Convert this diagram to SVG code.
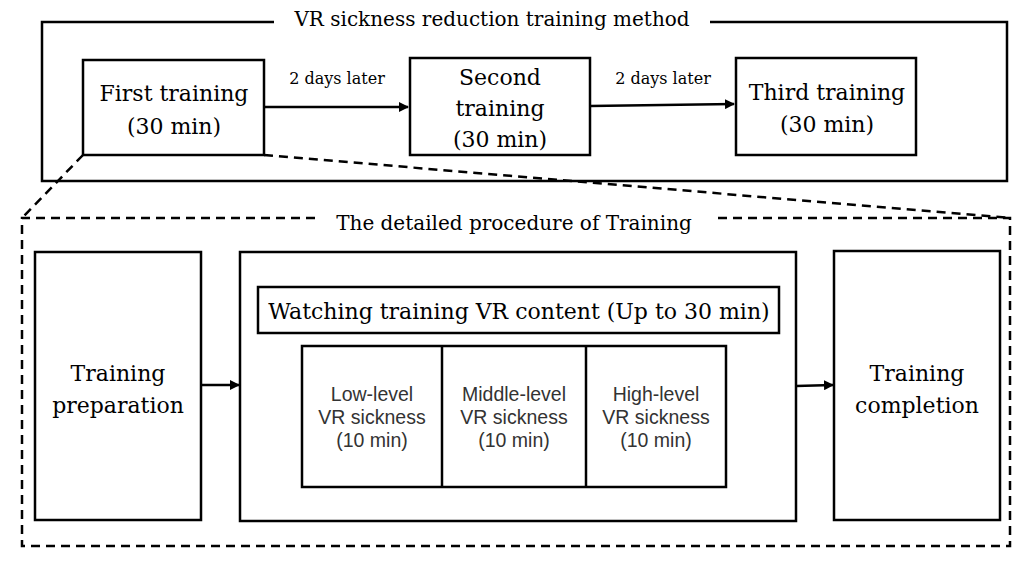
<svg xmlns="http://www.w3.org/2000/svg" width="1024" height="564" viewBox="0 0 1024 564">
<style>
.b{fill:none;stroke:#000;stroke-width:2.5}
.d{fill:none;stroke:#000;stroke-width:2.5;stroke-dasharray:9 6}
.s{font-family:"DejaVu Serif","Liberation Serif",serif;fill:#000;text-anchor:middle}
.n{font-family:"Liberation Sans",Arial,sans-serif;fill:#333;text-anchor:middle;font-size:19.5px}
</style>
<defs><marker id="a" markerWidth="10" markerHeight="10" refX="9" refY="5" orient="auto" markerUnits="userSpaceOnUse"><path d="M0,0 L10,5 L0,10 z"/></marker></defs>
<rect width="1024" height="564" fill="#fff"/>
<g id="outer">
<path class="b" d="M274,22 H42 V181 H1007 V22 H710"/>
<text class="s" x="492" y="26" font-size="20">VR sickness reduction training method</text>
</g>
<g id="first"><rect class="b" x="83" y="60" width="181" height="95"/>
<text class="s" x="174" y="101" font-size="22">First training</text><text class="s" x="174" y="134" font-size="22">(30 min)</text></g>
<g id="second"><rect class="b" x="410" y="58" width="180" height="97"/>
<text class="s" x="500" y="85" font-size="22">Second</text><text class="s" x="500" y="116" font-size="22">training</text><text class="s" x="500" y="147" font-size="22">(30 min)</text></g>
<g id="third"><rect class="b" x="736" y="58" width="180" height="97"/>
<text class="s" x="827" y="100" font-size="22">Third training</text><text class="s" x="827" y="132" font-size="22">(30 min)</text></g>
<g id="detail">
<path class="d" d="M315,218 H22 V546 H1010 V218 H712"/>
<text class="s" x="514" y="230" font-size="20">The detailed procedure of  Training</text>
</g>
<g id="prep"><rect class="b" x="35" y="252" width="166" height="268"/>
<text class="s" x="118" y="381" font-size="22">Training</text><text class="s" x="118" y="413" font-size="22">preparation</text></g>
<g id="watch"><rect class="b" x="240" y="252" width="556" height="269"/>
<rect class="b" x="258" y="287" width="521" height="46"/>
<text class="s" x="519" y="319" font-size="22">Watching training VR content (Up to 30 min)</text>
<rect class="b" x="302" y="346" width="424" height="141"/>
<line class="b" x1="442" y1="346" x2="442" y2="487"/><line class="b" x1="586" y1="346" x2="586" y2="487"/>
<text class="n" x="372" y="401">Low-level</text><text class="n" x="372" y="424">VR sickness</text><text class="n" x="372" y="447">(10 min)</text>
<text class="n" x="514" y="401">Middle-level</text><text class="n" x="514" y="424">VR sickness</text><text class="n" x="514" y="447">(10 min)</text>
<text class="n" x="656" y="401">High-level</text><text class="n" x="656" y="424">VR sickness</text><text class="n" x="656" y="447">(10 min)</text></g>
<g id="complete"><rect class="b" x="834" y="251" width="166" height="269"/>
<text class="s" x="917" y="381" font-size="22">Training</text><text class="s" x="917" y="413" font-size="22">completion</text></g>
<g id="connectors">
<line class="b" x1="264" y1="107" x2="408" y2="107" marker-end="url(#a)"/>
<text class="s" x="337" y="84" font-size="16">2 days later</text>
<line class="b" x1="590" y1="106" x2="734" y2="104" marker-end="url(#a)"/>
<text class="s" x="663" y="84" font-size="16">2 days later</text>
<line class="b" x1="201" y1="385" x2="239" y2="385" marker-end="url(#a)"/>
<line class="b" x1="796" y1="386" x2="833" y2="385" marker-end="url(#a)"/>
<line class="d" x1="83" y1="155" x2="22" y2="218"/>
<line class="d" x1="264" y1="155" x2="1010" y2="218"/>
</g>
</svg>
